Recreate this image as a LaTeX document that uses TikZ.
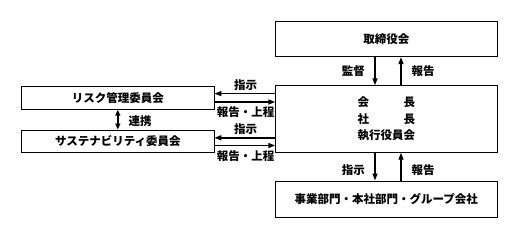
\documentclass[tikz,border=0pt]{standalone}
\usepackage{fontspec}
\setmainfont{Noto Sans CJK JP}
\usetikzlibrary{arrows.meta}
\tikzset{
  box/.style={draw=black, line width=0.8pt, fill=white, inner sep=0pt},
  arr/.style={line width=1.4pt, -{Triangle[length=7pt,width=5pt]}},
  darr/.style={line width=1.4pt, {Triangle[length=6pt,width=5pt]}-{Triangle[length=6pt,width=5pt]}},
  lbl/.style={inner sep=0pt},
}
\begin{document}
\begin{tikzpicture}[x=1pt,y=-1pt,font=\bfseries\fontsize{11.5}{16.5}\selectfont]
\useasboundingbox (0,0) rectangle (520,241);
\node[box, minimum width=221.3pt, minimum height=35pt] (board) at (386.3,39.2) {取締役会};
\node[box, minimum width=221.3pt, minimum height=66.6pt, align=center] (mid) at (386.3,119) {会\hspace{3em}長\\社\hspace{3em}長\\執行役員会};
\node[box, minimum width=221.3pt, minimum height=36.7pt] (dept) at (386.3,199.3) {事業部門・本社部門・グループ会社};
\node[box, minimum width=192.3pt, minimum height=22.6pt] (risk) at (117.8,98) {リスク管理委員会};
\node[box, minimum width=192.3pt, minimum height=22.7pt] (sus) at (117.8,141.3) {サステナビリティ委員会};

% board <-> mid
\draw[arr] ([xshift=-11.3pt]board.south) -- ([xshift=-11.3pt]mid.north);
\draw[arr] ([xshift=14.7pt]mid.north) -- ([xshift=14.7pt]board.south);
\node[lbl] (l1) at (353.3,71) {監督};
\node[lbl] (l2) at (423,71) {報告};

% mid <-> dept
\draw[arr] ([xshift=-11.3pt]mid.south) -- ([xshift=-11.3pt]dept.north);
\draw[arr] ([xshift=14.7pt]dept.north) -- ([xshift=14.7pt]mid.south);
\node[lbl] (l3) at (353.3,170) {指示};
\node[lbl] (l4) at (423,170) {報告};

% risk <-> mid
\draw[arr] ([yshift=4.4pt]risk.east -| mid.west) -- ([yshift=4.4pt]risk.east);
\draw[arr] ([yshift=-4pt]risk.east) -- ([yshift=-4pt]risk.east -| mid.west);
\node[lbl] (l5) at (245.7,85) {指示};
\node[lbl] (l6) at (245.7,112) {報告・上程};

% sus <-> mid
\draw[arr] ([yshift=3.5pt]sus.east -| mid.west) -- ([yshift=3.5pt]sus.east);
\draw[arr] ([yshift=-4.2pt]sus.east) -- ([yshift=-4.2pt]sus.east -| mid.west);
\node[lbl] (l7) at (245.7,129) {指示};
\node[lbl] (l8) at (245.7,155.7) {報告・上程};

% risk <-> sus
\draw[darr] (risk.south) -- (sus.north);
\node[lbl] (l9) at (140,120.7) {連携};
\end{tikzpicture}
\end{document}
